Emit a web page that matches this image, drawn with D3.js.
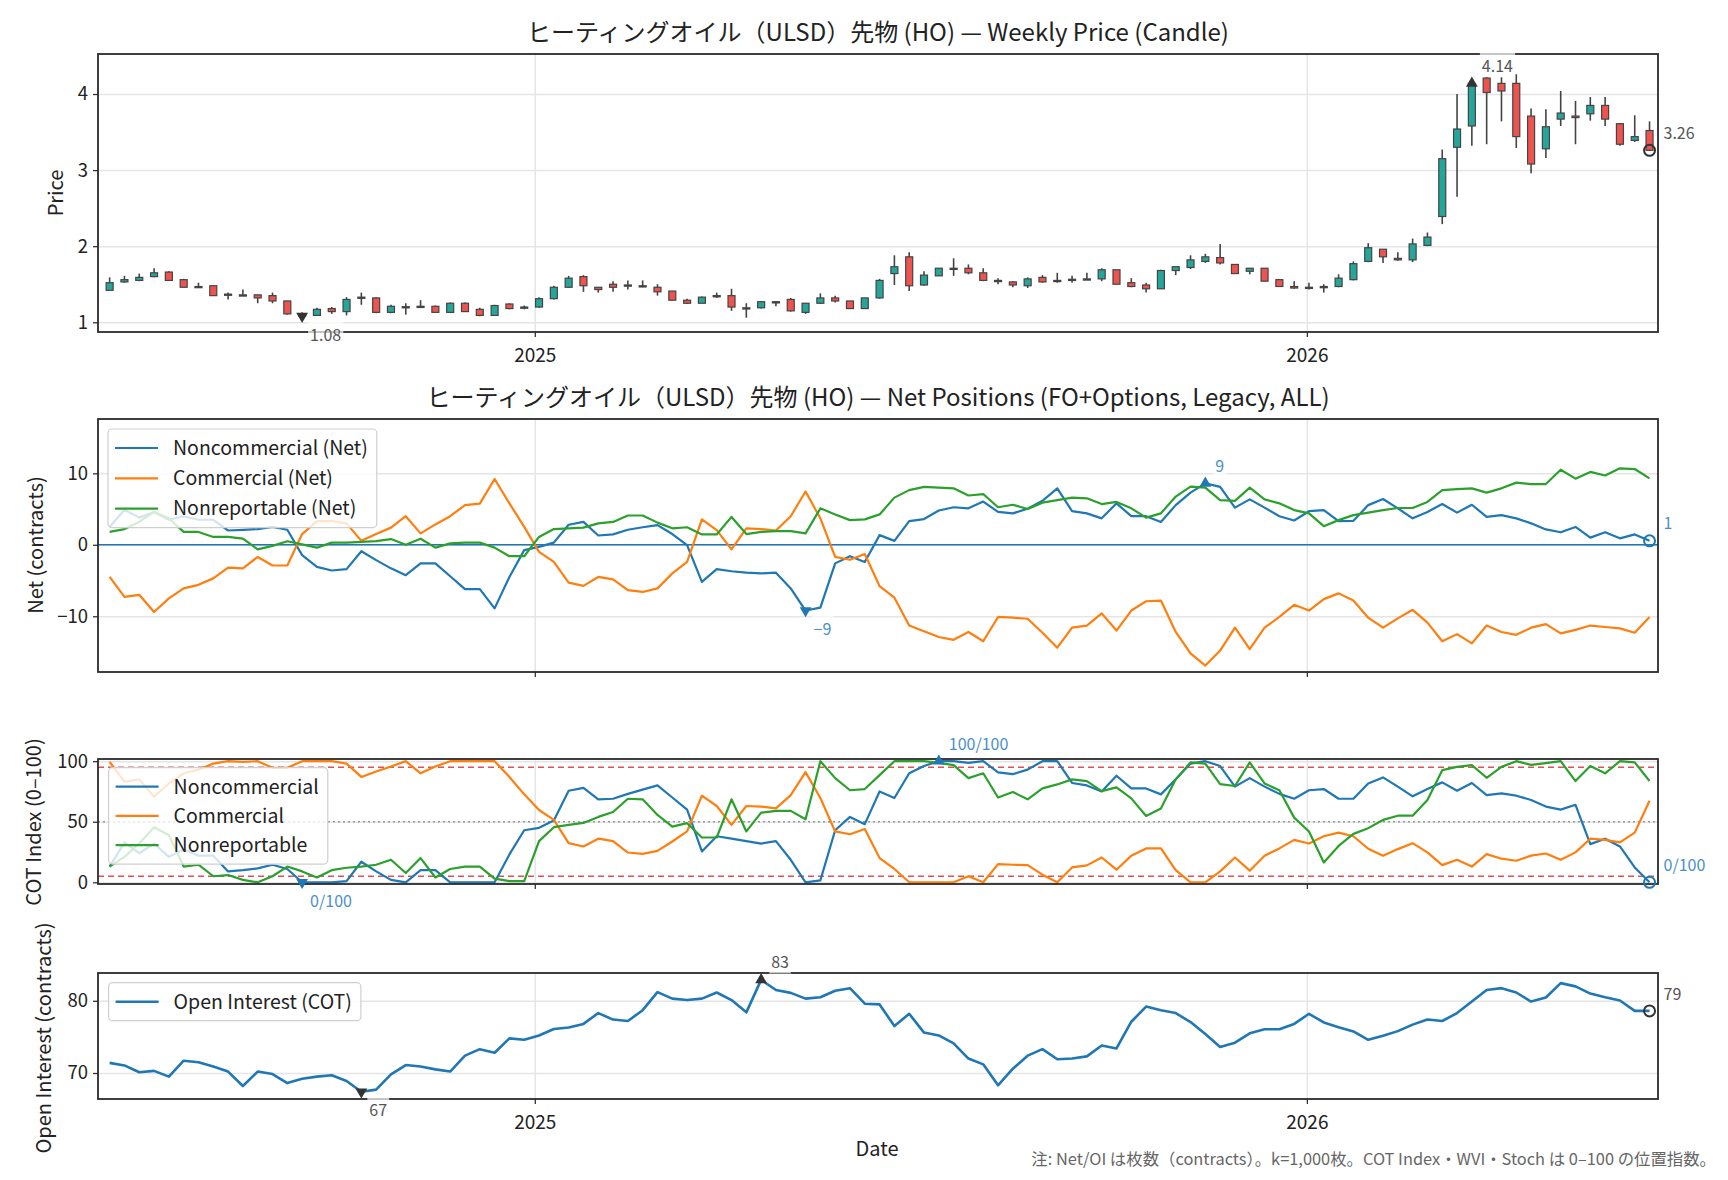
<!DOCTYPE html>
<html>
<head>
<meta charset="utf-8">
<title>HO weekly price and COT</title>
<script src="https://cdn.jsdelivr.net/npm/d3@7/dist/d3.min.js"></script>
<style>
    body { margin: 0; background: #fff; }
    svg text { font-family: "Noto Sans CJK JP", "Noto Sans", sans-serif; }
</style>
</head>
<body>
<svg id="chart" width="1728" height="1180"></svg>

<script type="text/javascript">
// weekly dates (Fri)
const dates = [
    "2024-06-14","2024-06-21","2024-06-28","2024-07-05","2024-07-12","2024-07-19","2024-07-26",
    "2024-08-02","2024-08-09","2024-08-16","2024-08-23","2024-08-30","2024-09-06","2024-09-13",
    "2024-09-20","2024-09-27","2024-10-04","2024-10-11","2024-10-18","2024-10-25","2024-11-01",
    "2024-11-08","2024-11-15","2024-11-22","2024-11-29","2024-12-06","2024-12-13","2024-12-20",
    "2024-12-27","2025-01-03","2025-01-10","2025-01-17","2025-01-24","2025-01-31","2025-02-07",
    "2025-02-14","2025-02-21","2025-02-28","2025-03-07","2025-03-14","2025-03-21","2025-03-28",
    "2025-04-04","2025-04-11","2025-04-18","2025-04-25","2025-05-02","2025-05-09","2025-05-16",
    "2025-05-23","2025-05-30","2025-06-06","2025-06-13","2025-06-20","2025-06-27","2025-07-04",
    "2025-07-11","2025-07-18","2025-07-25","2025-08-01","2025-08-08","2025-08-15","2025-08-22",
    "2025-08-29","2025-09-05","2025-09-12","2025-09-19","2025-09-26","2025-10-03","2025-10-10",
    "2025-10-17","2025-10-24","2025-10-31","2025-11-07","2025-11-14","2025-11-21","2025-11-28",
    "2025-12-05","2025-12-12","2025-12-19","2025-12-26","2026-01-02","2026-01-09","2026-01-16",
    "2026-01-23","2026-01-30","2026-02-06","2026-02-13","2026-02-20","2026-02-27","2026-03-06",
    "2026-03-13","2026-03-20","2026-03-27","2026-04-03","2026-04-10","2026-04-17","2026-04-24",
    "2026-05-01","2026-05-08","2026-05-15","2026-05-22","2026-05-29","2026-06-05","2026-06-12"
];

// candles
const priceOpen = [
    1.42,1.53,1.55,1.60,1.66,1.56,1.47,1.48,1.37,1.36,1.36,1.35,1.28,1.11,1.09,1.18,1.14,1.32,1.32,1.13,
    1.20,1.21,1.21,1.13,1.25,1.17,1.09,1.24,1.20,1.20,1.31,1.46,1.60,1.46,1.50,1.49,1.48,1.46,1.41,1.29,
    1.25,1.34,1.35,1.19,1.19,1.27,1.30,1.13,1.25,1.32,1.28,1.18,1.32,1.64,1.86,1.49,1.61,1.70,1.71,1.65,
    1.55,1.53,1.48,1.59,1.55,1.56,1.57,1.57,1.69,1.52,1.49,1.44,1.68,1.72,1.80,1.85,1.76,1.67,1.71,1.56,
    1.47,1.46,1.46,1.47,1.56,1.80,1.96,1.84,1.82,2.01,2.39,3.30,3.58,4.21,4.14,4.14,3.71,3.28,3.67,3.71,
    3.74,3.85,3.61,3.39,3.52
];
const priceHigh = [
    1.59,1.61,1.64,1.71,1.67,1.57,1.52,1.48,1.39,1.43,1.36,1.39,1.28,1.13,1.19,1.20,1.33,1.39,1.33,1.23,
    1.25,1.29,1.22,1.26,1.26,1.19,1.23,1.25,1.22,1.33,1.48,1.61,1.62,1.46,1.54,1.55,1.55,1.50,1.41,1.31,
    1.34,1.39,1.44,1.25,1.28,1.28,1.32,1.25,1.38,1.35,1.28,1.32,1.57,1.88,1.92,1.67,1.71,1.84,1.76,1.71,
    1.58,1.54,1.59,1.62,1.65,1.61,1.65,1.71,1.69,1.58,1.52,1.69,1.73,1.88,1.90,2.03,1.76,1.71,1.71,1.57,
    1.54,1.52,1.50,1.63,1.80,2.04,1.96,1.92,2.10,2.18,3.27,4.00,4.18,4.22,4.22,4.26,3.81,3.80,4.04,3.91,
    3.96,3.96,3.61,3.72,3.64
];
const priceLow = [
    1.42,1.52,1.54,1.59,1.55,1.46,1.46,1.35,1.30,1.35,1.25,1.25,1.10,1.07,1.09,1.11,1.09,1.23,1.12,1.12,
    1.10,1.20,1.13,1.13,1.14,1.08,1.09,1.17,1.17,1.19,1.30,1.45,1.40,1.39,1.40,1.43,1.46,1.35,1.29,1.24,
    1.25,1.32,1.15,1.06,1.18,1.21,1.14,1.11,1.24,1.26,1.18,1.18,1.31,1.49,1.41,1.48,1.61,1.61,1.63,1.54,
    1.50,1.46,1.45,1.52,1.52,1.52,1.56,1.54,1.50,1.46,1.39,1.44,1.62,1.70,1.78,1.76,1.64,1.63,1.54,1.47,
    1.44,1.43,1.39,1.46,1.55,1.79,1.78,1.81,1.79,2.00,2.29,2.65,3.32,3.34,3.64,3.29,2.96,3.16,3.58,3.34,
    3.65,3.58,3.32,3.37,3.25
];
const priceClose = [
    1.52,1.56,1.59,1.65,1.55,1.46,1.46,1.35,1.36,1.36,1.32,1.28,1.11,1.08,1.17,1.14,1.30,1.33,1.13,1.21,
    1.205,1.20,1.13,1.25,1.14,1.09,1.22,1.18,1.20,1.31,1.46,1.58,1.48,1.43,1.46,1.48,1.47,1.40,1.29,1.25,
    1.33,1.35,1.20,1.19,1.27,1.26,1.15,1.25,1.32,1.28,1.18,1.32,1.55,1.73,1.48,1.62,1.71,1.71,1.65,1.55,
    1.54,1.49,1.57,1.53,1.54,1.565,1.57,1.69,1.50,1.47,1.44,1.68,1.73,1.82,1.86,1.78,1.64,1.71,1.54,1.47,
    1.45,1.45,1.47,1.58,1.77,1.98,1.86,1.82,2.03,2.12,3.15,3.54,4.14,4.02,4.04,3.44,3.08,3.57,3.75,3.69,
    3.85,3.67,3.34,3.44,3.26
];

// net positions, k contracts
const netNoncomm = [
    2.5,4.9,3.8,4.6,3.5,4.0,3.5,3.5,2.0,2.1,2.2,2.5,2.1,-1.45,-3.1,-3.6,-3.4,-0.9,-2.15,-3.3,
    -4.25,-2.6,-2.6,-4.4,-6.2,-6.2,-8.9,-4.5,-0.75,-0.3,0.3,2.8,3.2,1.3,1.45,2.1,2.45,2.75,1.5,-0.05,
    -5.2,-3.4,-3.7,-3.9,-4.0,-3.9,-6.1,-9.2,-8.8,-2.6,-1.6,-2.4,1.35,0.55,3.3,3.6,4.8,5.25,5.1,6.05,
    4.6,4.4,5.05,6.15,7.9,4.7,4.4,3.7,5.8,4.0,4.0,3.2,5.55,7.3,8.6,8.1,5.2,6.35,5.2,4.0,
    3.4,4.7,4.85,3.3,3.35,5.55,6.4,5.1,3.7,4.6,5.7,4.5,5.6,3.9,4.15,3.7,3.0,2.15,1.75,2.5,
    1.0,1.75,0.9,1.45,0.55
];
const netComm = [
    -4.5,-7.3,-7.0,-9.4,-7.5,-6.1,-5.6,-4.7,-3.2,-3.3,-1.7,-2.9,-2.9,1.5,3.3,3.3,3.0,0.55,1.5,2.4,
    4.0,1.6,2.85,4.0,5.55,5.75,9.2,5.8,2.5,-1.0,-2.4,-5.3,-5.75,-4.5,-4.85,-6.35,-6.6,-6.1,-4.0,-2.4,
    3.55,2.05,-0.65,2.3,2.2,2.0,4.0,7.45,3.7,-1.7,-2.1,-1.3,-5.8,-7.4,-11.3,-12.1,-12.9,-13.3,-12.2,-13.5,
    -10.1,-10.2,-10.35,-12.3,-14.4,-11.6,-11.3,-9.6,-12.0,-9.2,-7.9,-7.8,-12.2,-15.2,-16.9,-14.8,-11.6,-14.6,-11.6,-10.1,
    -8.4,-9.2,-7.6,-6.8,-7.8,-10.2,-11.6,-10.3,-9.1,-10.9,-13.5,-12.5,-13.8,-11.3,-12.2,-12.6,-11.6,-11.1,-12.4,-11.9,
    -11.3,-11.5,-11.7,-12.3,-10.1
];
const netNonrep = [
    1.8,2.2,3.2,4.6,3.7,1.8,1.8,1.1,1.1,0.85,-0.65,-0.15,0.5,0.05,-0.4,0.3,0.3,0.4,0.5,0.8,
    0,0.85,-0.4,0.2,0.3,0.3,-0.4,-1.6,-1.6,1.1,2.2,2.3,2.4,3.0,3.2,4.1,4.1,3.1,2.3,2.45,
    1.45,1.45,3.9,1.5,1.8,1.9,1.9,1.6,5.1,4.25,3.45,3.55,4.25,6.6,7.65,8.1,8.0,7.9,6.9,7.1,
    5.25,5.6,5.0,5.9,6.25,6.6,6.5,5.7,6.0,5.1,3.8,4.4,6.75,8.15,8.0,6.25,6.15,8.0,6.35,5.8,
    4.85,4.4,2.6,3.45,4.15,4.5,4.85,5.15,5.15,6.0,7.65,7.8,7.9,7.3,7.9,8.7,8.5,8.5,10.5,9.25,
    10.2,9.7,10.7,10.6,9.3
];

// COT index 0-100
const idxNoncomm = [
    13,33,24,32,21,27,22,22,9,10,11.5,14.5,11,0,0,0,1,17,9,2,
    0,10,10,0,0,0,0,23,43,45,51,75.6,78,68.5,69,73,76.5,80,70,60,
    25.5,38,36,34,32,34,18.6,0,1.6,43,54,48,75,69.6,90,96,100,100,98.6,100,
    90.7,89.3,93,100,100,82,80,75,88,77.5,77.5,72.6,85,98,100,96,79,86,79,73,
    69,76,77,69,69,81.6,86.6,79,71,77,82.5,75.6,82,72,73.4,71.5,68,62.5,60,64,
    31.5,36,29.6,12.3,0
];
const idxComm = [
    99.5,83,85,70.7,81.6,90,93,98,100,99.5,100,94.5,94.5,100,100,100,98,87,91.5,95.6,
    100,90,95.6,100,100,100,100,87,72.6,59.7,51.5,32.3,29.6,36,34,24.6,23.5,26,33.7,42,
    71.5,63,47.4,63,62.5,61,72,91,69.6,42,39.7,44,20,11,0,0,0,0,5,0,
    15,14.5,14.2,6.3,0,12.3,14,20.5,10.4,22,28,28,10,0,0,9,20.5,9.6,22,28,
    35,32,38,41,38,27.7,22,27.4,32.3,24.7,14.2,18.6,13,23.3,19.5,17.8,22,23.8,18.6,24.7,
    36,35,33,41,67.4
];
const idxNonrep = [
    13,21,32,45.5,39,13,14.5,5,6,2,0,5,13,9,4,10,12,13,14.5,18.6,
    7.7,20,4,11,13,13,3,1,1,34,45.5,47.4,49,54,58,69,68.5,55.6,46,48.8,
    37,37,68.5,42,57.5,59,59,52,100,86,76,77,88.5,100,100,100,98.6,96.7,86,90,
    70,74.5,68.5,77.5,80.8,85,83.6,75.3,78.4,69.3,54.8,61,85,99,98,81,79.5,99,81.6,76,
    53.4,42,16.4,30,40,44.7,51.5,55,55,68,92.6,95.3,96.7,86.3,95.3,100,97,98.4,100,83.6,
    96,90,100,99,83.6
];

// open interest, k contracts
const openInterest = [
    71.4,71.05,70.1,70.3,69.5,71.7,71.5,70.9,70.2,68.2,70.2,69.85,68.6,69.2,69.5,69.7,68.9,67.4,67.7,69.8,
    71.1,70.9,70.5,70.2,72.4,73.3,72.8,74.8,74.6,75.2,76.1,76.3,76.8,78.3,77.4,77.2,78.7,81.2,80.3,80.1,
    80.3,81.15,80.1,78.4,82.9,81.5,81.1,80.3,80.5,81.4,81.75,79.6,79.5,76.5,78.2,75.6,75.2,74.1,72.0,71.2,
    68.3,70.6,72.4,73.3,71.9,72.0,72.3,73.8,73.4,77.1,79.2,78.7,78.3,77.05,75.4,73.6,74.2,75.5,76.05,76.05,
    76.8,78.2,77.0,76.35,75.75,74.6,75.15,75.8,76.7,77.4,77.2,78.3,79.9,81.5,81.75,81.15,79.9,80.45,82.45,82.0,
    81.0,80.5,80.05,78.6,78.6
];

const yearTickLabels = ["2025-01-01", "2026-01-01"];
const priceTicks = [1, 2, 3, 4];
const netTicks = [-10, 0, 10];
const idxTicks = [0, 50, 100];
const oiTicks = [70, 80];

const titlePrice = "ヒーティングオイル（ULSD）先物 (HO) — Weekly Price (Candle)";
const titleNet = "ヒーティングオイル（ULSD）先物 (HO) — Net Positions (FO+Options, Legacy, ALL)";
const footNote = "注: Net/OI は枚数（contracts）。k=1,000枚。COT Index・WVI・Stoch は 0–100 の位置指数。";

const C_BLUE = "#1f77b4", C_ORANGE = "#ff7f0e", C_GREEN = "#2ca02c";
const C_UP = "#26a69a", C_DOWN = "#ef5350", C_EDGE = "#444";

const svg = d3.select("#chart");
const X0 = 98, X1 = 1658;
const parse = d3.timeParse("%Y-%m-%d");
const dts = dates.map(parse);
const yearTicks = yearTickLabels.map(parse);
const x = d3.scaleTime()
    .domain([new Date(2024, 5, 8, 12), new Date(2026, 5, 16)])
    .range([X0, X1]);

function makePanel(top, bottom, domain, ticks) {
    const y = d3.scaleLinear().domain(domain).range([bottom, top]);
    const g = svg.append("g");
    /// grid
    g.append("g").attr("transform", `translate(${X0},0)`)
        .call(d3.axisLeft(y).tickValues(ticks).tickSize(-(X1 - X0)).tickFormat(""))
        .call(a => a.select(".domain").remove())
        .call(a => a.selectAll("line").attr("stroke", "#e5e5e5").attr("stroke-width", 1.5));
    g.append("g").attr("transform", `translate(0,${bottom})`)
        .call(d3.axisBottom(x).tickValues(yearTicks).tickSize(-(bottom - top)).tickFormat(""))
        .call(a => a.select(".domain").remove())
        .call(a => a.selectAll("line").attr("stroke", "#e5e5e5").attr("stroke-width", 1.5));
    const layer = g.append("g");
    return {y, g, layer, top, bottom, ticks};
}

function finishPanel(p, yFmt, xLabels) {
    const yAx = p.g.append("g").attr("transform", `translate(${X0},0)`)
        .call(d3.axisLeft(p.y).tickValues(p.ticks).tickSize(5).tickPadding(5).tickFormat(yFmt));
    yAx.select(".domain").remove();
    yAx.selectAll("line").attr("stroke", "#333").attr("stroke-width", 1.3);
    yAx.selectAll("text").attr("font-size", 18.5).attr("fill", "#222").attr("font-family", null);

    const xAx = p.g.append("g").attr("transform", `translate(0,${p.bottom})`)
        .call(d3.axisBottom(x).tickValues(yearTicks).tickSize(5).tickPadding(12)
            .tickFormat(xLabels ? d3.timeFormat("%Y") : ""));
    xAx.select(".domain").remove();
    xAx.selectAll("line").attr("stroke", "#333").attr("stroke-width", 1.3);
    xAx.selectAll("text").attr("font-size", 19).attr("fill", "#222").attr("font-family", null);

    p.g.append("rect")
        .attr("x", X0).attr("y", p.top)
        .attr("width", X1 - X0).attr("height", p.bottom - p.top)
        .attr("fill", "none").attr("stroke", "#2b2b2b").attr("stroke-width", 1.8);
}

function drawLine(p, values, color, width) {
    p.layer.append("path")
        .datum(values)
        .attr("fill", "none")
        .attr("stroke", color)
        .attr("stroke-width", width)
        .attr("stroke-linejoin", "round")
        .attr("d", d3.line().x((d, i) => x(dts[i])).y(d => p.y(d)));
}

function marker(parent, px, py, kind, color) {
    if (kind === "circle") {
        parent.append("circle").attr("cx", px).attr("cy", py).attr("r", 5.5)
            .attr("fill", "none").attr("stroke", color).attr("stroke-width", 2);
    } else {
        parent.append("path")
            .attr("d", d3.symbol(d3.symbolTriangle, 60)())
            .attr("transform", `translate(${px},${py}) rotate(${kind === "down" ? 180 : 0})`)
            .attr("fill", color);
    }
}

function note(parent, px, py, txt, color) {
    const grp = parent.append("g");
    const bg = grp.append("rect").attr("fill", "#fff").attr("opacity", 0.7);
    const t = grp.append("text").attr("x", px).attr("y", py).attr("dy", "0.35em")
        .attr("font-size", 16).attr("fill", color).text(txt);
    const b = t.node().getBBox();
    bg.attr("x", b.x - 2).attr("y", b.y).attr("width", b.width + 4).attr("height", b.height);
}

/// min / max / last markers with labels
function extremes(p, values, mColor, tColor, fmt) {
    const iMin = d3.minIndex(values), iMax = d3.maxIndex(values), iLast = values.length - 1;
    const layer = p.g.append("g");
    let px = x(dts[iMin]), py = p.y(values[iMin]);
    marker(layer, px, py, "down", mColor);
    note(layer, px + 8, py + 19, fmt(values[iMin]), tColor);
    px = x(dts[iMax]); py = p.y(values[iMax]);
    marker(layer, px, py, "up", mColor);
    note(layer, px + 10, py - 17, fmt(values[iMax]), tColor);
    px = x(dts[iLast]); py = p.y(values[iLast]);
    marker(layer, px, py, "circle", mColor);
    note(layer, px + 14, py - 17, fmt(values[iLast]), tColor);
}

function legend(parent, bx, by, items, gap) {
    const grp = parent.append("g");
    const box = grp.append("rect").attr("x", bx).attr("y", by).attr("rx", 4)
        .attr("fill", "#fff").attr("fill-opacity", 0.8).attr("stroke", "#cfcfcf").attr("stroke-width", 1.2);
    let maxW = 0;
    items.forEach((it, i) => {
        const ry = by + 19 + i * gap;
        grp.append("line").attr("x1", bx + 7).attr("x2", bx + 50).attr("y1", ry).attr("y2", ry)
            .attr("stroke", it.color).attr("stroke-width", it.width || 2.2);
        const t = grp.append("text").attr("x", bx + 65).attr("y", ry).attr("dy", "0.35em")
            .attr("font-size", 19.5).attr("fill", "#222").text(it.label);
        maxW = Math.max(maxW, t.node().getComputedTextLength());
    });
    box.attr("width", maxW + 74).attr("height", 38 + (items.length - 1) * gap);
}

/// ---------- panel 1: candles ----------
const p1 = makePanel(54, 332, [0.872, 4.526], priceTicks);
const bodyW = 7;
dts.forEach((d, i) => {
    const cx = x(d);
    const o = priceOpen[i], c = priceClose[i];
    p1.layer.append("line")
        .attr("x1", cx).attr("x2", cx)
        .attr("y1", p1.y(priceHigh[i])).attr("y2", p1.y(priceLow[i]))
        .attr("stroke", C_EDGE).attr("stroke-width", 1.6);
    const yTop = p1.y(Math.max(o, c)), yBot = p1.y(Math.min(o, c));
    p1.layer.append("rect")
        .attr("x", cx - bodyW / 2).attr("y", yTop)
        .attr("width", bodyW).attr("height", Math.max(yBot - yTop, 1.2))
        .attr("fill", c >= o ? C_UP : C_DOWN)
        .attr("stroke", C_EDGE).attr("stroke-width", 1.2);
});
finishPanel(p1, d3.format("d"), true);
extremes(p1, priceClose, "#333", "#555", d3.format(".2f"));

/// ---------- panel 2: net positions ----------
const p2 = makePanel(419, 672, [-17.8, 17.6], netTicks);
p2.layer.append("line")
    .attr("x1", X0).attr("x2", X1).attr("y1", p2.y(0)).attr("y2", p2.y(0))
    .attr("stroke", C_BLUE).attr("stroke-width", 1.4);
drawLine(p2, netNoncomm, C_BLUE, 2.2);
drawLine(p2, netComm, C_ORANGE, 2.2);
drawLine(p2, netNonrep, C_GREEN, 2.2);
finishPanel(p2, d => d < 0 ? "−" + Math.abs(d) : d, false);
legend(p2.g, 108, 429, [
    {label: "Noncommercial (Net)", color: C_BLUE},
    {label: "Commercial (Net)", color: C_ORANGE},
    {label: "Nonreportable (Net)", color: C_GREEN}
], 30.3);
extremes(p2, netNoncomm, C_BLUE, "#4a90c8", d3.format(".0f"));

/// ---------- panel 3: COT index ----------
const p3 = makePanel(759, 884, [-1.4, 101.8], idxTicks);
[95, 5].forEach(v => p3.layer.append("line")
    .attr("x1", X0).attr("x2", X1).attr("y1", p3.y(v)).attr("y2", p3.y(v))
    .attr("stroke", "#d62728").attr("stroke-opacity", 0.8)
    .attr("stroke-width", 1.5).attr("stroke-dasharray", "6,4"));
p3.layer.append("line")
    .attr("x1", X0).attr("x2", X1).attr("y1", p3.y(50)).attr("y2", p3.y(50))
    .attr("stroke", "#999").attr("stroke-width", 1.5).attr("stroke-dasharray", "2,3");
drawLine(p3, idxNoncomm, C_BLUE, 2.2);
drawLine(p3, idxComm, C_ORANGE, 2.2);
drawLine(p3, idxNonrep, C_GREEN, 2.2);
finishPanel(p3, d3.format("d"), false);
legend(p3.g, 108.6, 767.7, [
    {label: "Noncommercial", color: C_BLUE},
    {label: "Commercial", color: C_ORANGE},
    {label: "Nonreportable", color: C_GREEN}
], 29.2);
extremes(p3, idxNoncomm, C_BLUE, "#4a90c8", v => Math.round(v) + "/100");

/// ---------- panel 4: open interest ----------
const p4 = makePanel(973, 1099, [66.4, 83.85], oiTicks);
drawLine(p4, openInterest, C_BLUE, 2.6);
finishPanel(p4, d3.format("d"), true);
legend(p4.g, 108.6, 982.7, [{label: "Open Interest (COT)", color: C_BLUE, width: 2.6}], 0);
extremes(p4, openInterest, "#333", "#555", d3.format(".0f"));

/// ---------- titles and labels ----------
svg.append("text").attr("x", (X0 + X1) / 2).attr("y", 33).attr("dy", "0.35em")
    .attr("text-anchor", "middle").attr("font-size", 24).attr("fill", "#222").text(titlePrice);
svg.append("text").attr("x", (X0 + X1) / 2).attr("y", 398).attr("dy", "0.35em")
    .attr("text-anchor", "middle").attr("font-size", 24).attr("fill", "#222").text(titleNet);

const yLabels = [
    {text: "Price", x: 56, y: 193},
    {text: "Net (contracts)", x: 36, y: 545},
    {text: "COT Index (0–100)", x: 34, y: 822},
    {text: "Open Interest (contracts)", x: 44, y: 1038}
];
yLabels.forEach(l => svg.append("text")
    .attr("transform", `translate(${l.x},${l.y}) rotate(-90)`)
    .attr("dy", "0.35em").attr("text-anchor", "middle")
    .attr("font-size", 20).attr("fill", "#222").text(l.text));

svg.append("text").attr("x", 877).attr("y", 1149).attr("dy", "0.35em")
    .attr("text-anchor", "middle").attr("font-size", 20).attr("fill", "#222").text("Date");

svg.append("text").attr("x", 1716).attr("y", 1159).attr("dy", "0.35em")
    .attr("text-anchor", "end").attr("font-size", 16.4).attr("fill", "#666").text(footNote);
</script>
</body>
</html>
